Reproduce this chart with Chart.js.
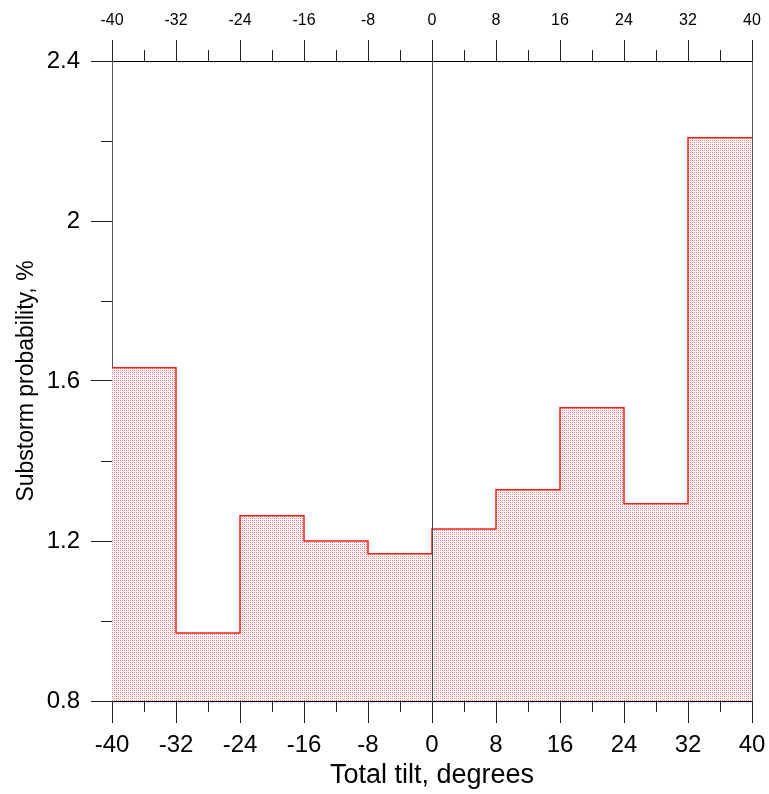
<!DOCTYPE html>
<html>
<head>
<meta charset="utf-8">
<script src="https://cdn.jsdelivr.net/npm/chart.js@4/dist/chart.umd.min.js"></script>
<style>
    html, body { margin: 0; padding: 0; background: #fff; }
    #wrap { width: 769px; height: 794px; }
</style>
</head>
<body>
<div id="wrap"><canvas id="tiltChart"></canvas></div>
<script>
// histogram bins of total tilt (left edges), last bin closes at binEnd
const binStarts = [-40, -32, -24, -16, -8, 0, 8, 16, 24, 32];
const binEnd = 40;
const probability = [1.633, 0.97, 1.263, 1.2, 1.168, 1.23, 1.328, 1.533, 1.293, 2.208];

const xTicks = [-40, -32, -24, -16, -8, 0, 8, 16, 24, 32, 40];
const xMinorTicks = [-36, -28, -20, -12, -4, 4, 12, 20, 28, 36];
const yTicks = [0.8, 1.2, 1.6, 2.0, 2.4];
const yMinorTicks = [1.0, 1.4, 1.8, 2.2];

const FONT = 'Arial, "Liberation Sans", sans-serif';

function makeDotPattern() {
    const c = document.createElement('canvas');
    c.width = 4;
    c.height = 4;
    const g = c.getContext('2d');
    g.fillStyle = '#fff';
    g.fillRect(0, 0, 4, 4);
    const dots = [
        [0, 0, 'rgb(255,110,110)'], [2, 0, 'rgb(255,150,150)'],
        [0, 2, 'rgb(255,150,150)'], [2, 2, 'rgb(190,150,150)'],
        [1, 1, 'rgb(255,225,225)'], [3, 3, 'rgb(255,225,225)'],
    ];
    dots.forEach(([x, y, col]) => {
        g.fillStyle = col;
        g.fillRect(x, y, 1, 1);
    });
    return document.createElement('canvas').getContext('2d').createPattern(c, 'repeat');
}

const stepPoints = binStarts.map((x, i) => ({ x: x, y: probability[i] }));
stepPoints.push({ x: binEnd, y: probability[probability.length - 1] });

function noPad(s) {
    s.paddingLeft = 0;
    s.paddingRight = 0;
    s.paddingTop = 0;
    s.paddingBottom = 0;
}

// zero line + minor ticks, drawn through the chart scales
const extrasPlugin = {
    id: 'extras',
    afterDatasetsDraw(chart) {
        const { ctx, chartArea, scales } = chart;
        const x = scales.x;
        const y = scales.y;
        ctx.save();
        ctx.strokeStyle = '#444';
        ctx.lineWidth = 1;
        const x0 = Math.round(x.getPixelForValue(0)) + 0.5;
        ctx.beginPath();
        ctx.moveTo(x0, chartArea.top);
        ctx.lineTo(x0, chartArea.bottom);
        ctx.stroke();

        ctx.strokeStyle = '#222';
        ctx.beginPath();
        xMinorTicks.forEach((v) => {
            const px = Math.round(x.getPixelForValue(v)) + 0.5;
            ctx.moveTo(px, chartArea.bottom);
            ctx.lineTo(px, chartArea.bottom + 11);
            ctx.moveTo(px, chartArea.top);
            ctx.lineTo(px, chartArea.top - 11);
        });
        yMinorTicks.forEach((v) => {
            const py = Math.round(y.getPixelForValue(v)) + 0.5;
            ctx.moveTo(chartArea.left, py);
            ctx.lineTo(chartArea.left - 11, py);
        });
        ctx.stroke();
        ctx.restore();
    },
};

new Chart(document.getElementById('tiltChart').getContext('2d'), {
    type: 'line',
    data: {
        datasets: [
            {
                data: stepPoints,
                stepped: 'before',
                borderColor: 'rgb(255,30,30)',
                borderWidth: 1.5,
                backgroundColor: makeDotPattern(),
                fill: 'start',
                pointRadius: 0,
                tension: 0,
            },
        ],
    },
    options: {
        responsive: true,
        maintainAspectRatio: false,
        animation: false,
        layout: { padding: 0 },
        plugins: {
            legend: { display: false },
            tooltip: { enabled: false },
        },
        scales: {
            x: {
                type: 'linear',
                position: 'bottom',
                min: -40,
                max: 40,
                z: 1,
                afterBuildTicks: (s) => { s.ticks = xTicks.map((v) => ({ value: v })); },
                afterFit: (s) => { s.height = 93; noPad(s); },
                ticks: {
                    padding: 8,
                    color: '#000',
                    maxRotation: 0,
                    autoSkip: false,
                    font: { family: FONT, size: 24 },
                },
                grid: {
                    drawOnChartArea: false,
                    tickLength: 22,
                    tickColor: '#222',
                },
                border: { color: '#000', width: 1 },
                title: {
                    display: true,
                    text: 'Total tilt, degrees',
                    color: '#000',
                    font: { family: FONT, size: 27 },
                    padding: { top: 0, bottom: 2 },
                },
            },
            x2: {
                type: 'linear',
                position: 'top',
                min: -40,
                max: 40,
                z: 1,
                afterBuildTicks: (s) => { s.ticks = xTicks.map((v) => ({ value: v })); },
                afterFit: (s) => { s.height = 61; noPad(s); },
                ticks: {
                    padding: 10,
                    color: '#000',
                    maxRotation: 0,
                    autoSkip: false,
                    font: { family: FONT, size: 16 },
                },
                grid: {
                    drawOnChartArea: false,
                    tickLength: 21,
                    tickColor: '#222',
                },
                border: { color: '#000', width: 1 },
            },
            y: {
                type: 'linear',
                position: 'left',
                min: 0.8,
                max: 2.4,
                z: 1,
                afterBuildTicks: (s) => { s.ticks = yTicks.map((v) => ({ value: v })); },
                afterFit: (s) => { s.width = 112; noPad(s); },
                ticks: {
                    padding: 11,
                    color: '#000',
                    autoSkip: false,
                    font: { family: FONT, size: 24 },
                    callback: (v) => String(+v.toFixed(1)),
                },
                grid: {
                    drawOnChartArea: false,
                    tickLength: 21,
                    tickColor: '#222',
                },
                border: { color: '#555', width: 1 },
                title: {
                    display: true,
                    text: 'Substorm probability, %',
                    color: '#000',
                    font: { family: FONT, size: 23 },
                    padding: { top: 13, bottom: 0 },
                },
            },
            y2: {
                type: 'linear',
                position: 'right',
                min: 0.8,
                max: 2.4,
                z: 1,
                afterFit: (s) => { s.width = 17; noPad(s); },
                ticks: { display: false },
                grid: { drawOnChartArea: false, drawTicks: false },
                border: { color: '#555', width: 1 },
            },
        },
    },
    plugins: [extrasPlugin],
});
</script>
</body>
</html>
